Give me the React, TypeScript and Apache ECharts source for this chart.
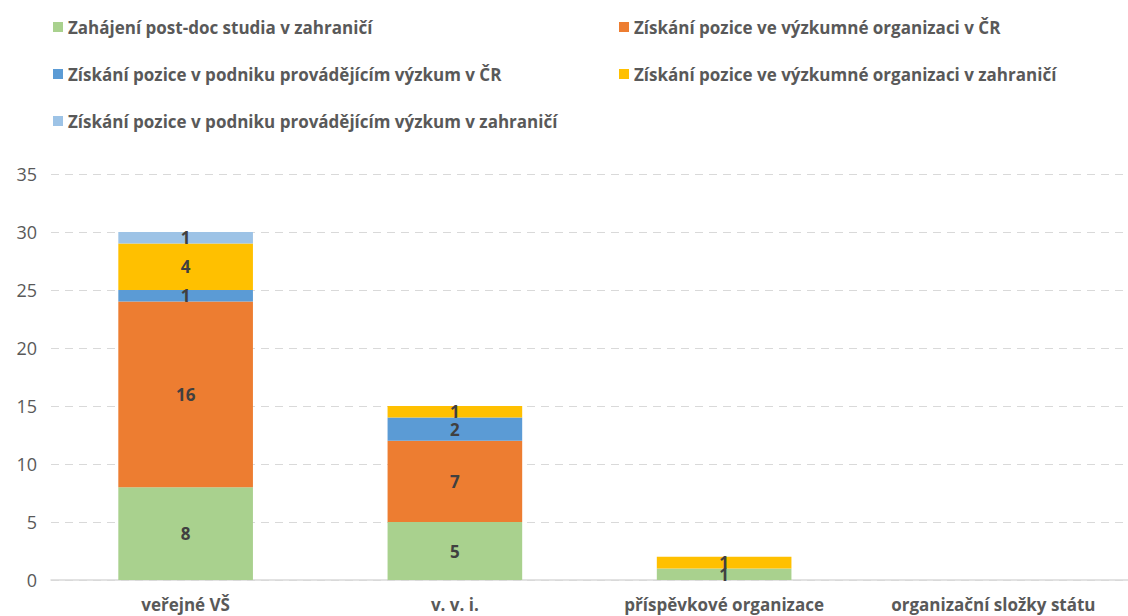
import React, { useEffect, useRef } from "react";
import * as echarts from "echarts";

const categories = ["veřejné VŠ", "v. v. i.", "příspěvkové organizace", "organizační složky státu"];
const seriesNames = [
  "Zahájení post-doc studia v zahraničí",
  "Získání pozice ve výzkumné organizaci v ČR",
  "Získání pozice v podniku provádějícím výzkum v ČR",
  "Získání pozice ve výzkumné organizaci v zahraničí",
  "Získání pozice v podniku provádějícím výzkum v zahraničí",
];
const postdoc = [8, 5, 1, 0];
const vyzkumCR = [16, 7, 0, 0];
const podnikCR = [1, 2, 0, 0];
const vyzkumZahr = [4, 1, 1, 0];
const podnikZahr = [1, 0, 0, 0];
const seriesValues = [postdoc, vyzkumCR, podnikCR, vyzkumZahr, podnikZahr];
const colors = ["#A9D18E", "#ED7D31", "#5B9BD5", "#FFC000", "#9DC3E6"];
const yTicks = { min: 0, max: 35, interval: 5 };

const FONT = "'Open Sans', 'Noto Sans', sans-serif";

export default function App() {
  const ref = useRef<HTMLDivElement>(null);
  useEffect(() => {
    if (!ref.current) return;
    const chart = echarts.init(ref.current, undefined, { renderer: "svg" });
    const legendText = {
      color: "#595959",
      fontSize: 17,
      lineHeight: 18,
      fontWeight: "bold" as const,
      fontFamily: FONT,
    };
    const legendBase = {
      top: 13,
      orient: "vertical" as const,
      itemWidth: 10,
      itemHeight: 10,
      itemGap: 29,
      icon: "rect",
      textStyle: legendText,
    };
    chart.setOption({
      animation: false,
      color: colors,
      textStyle: { fontFamily: FONT },
      legend: [
        { ...legendBase, left: 48, data: [seriesNames[0], seriesNames[2], seriesNames[4]] },
        { ...legendBase, left: 614, data: [seriesNames[1], seriesNames[3]] },
      ],
      grid: { left: 51, right: -3, top: 174, bottom: 36, containLabel: false },
      xAxis: {
        type: "category",
        data: categories,
        axisLine: { show: true, lineStyle: { color: "#D9D9D9", width: 1.5 } },
        axisTick: { show: false },
        axisLabel: { color: "#595959", fontSize: 17, fontWeight: "bold", margin: 16, fontFamily: FONT },
      },
      yAxis: {
        type: "value",
        min: yTicks.min,
        max: yTicks.max,
        interval: yTicks.interval,
        axisLine: { show: false },
        axisTick: { show: false },
        axisLabel: { color: "#595959", fontSize: 18, margin: 14, fontFamily: FONT },
        splitLine: { lineStyle: { color: "#D9D9D9", type: [8, 6], width: 1.2 } },
      },
      series: seriesNames.map((name, i) => ({
        name,
        type: "bar",
        stack: "total",
        barWidth: "50%",
        data: seriesValues[i],
        itemStyle: { color: colors[i] },
        label: {
          show: true,
          position: "inside",
          color: "#404040",
          fontSize: 17,
          lineHeight: 12,
          fontWeight: "bold",
          fontFamily: FONT,
          formatter: (p: any) => (p.value ? String(p.value) : ""),
        },
      })),
    });
    return () => chart.dispose();
  }, []);
  return <div ref={ref} style={{ width: 1128, height: 616, position: "absolute", left: 0, top: 0 }} />;
}
